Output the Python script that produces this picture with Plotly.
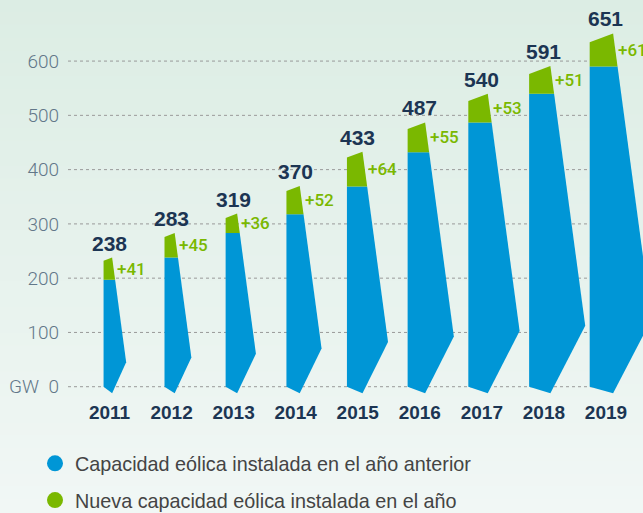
import plotly.graph_objects as go

# ---- data ----
years = ["2011", "2012", "2013", "2014", "2015", "2016", "2017", "2018", "2019"]
total_gw = [238, 283, 319, 370, 433, 487, 540, 591, 651]
new_gw = [41, 45, 36, 52, 64, 55, 53, 51, 61]
prev_gw = [t - n for t, n in zip(total_gw, new_gw)]
y_ticks = [0, 100, 200, 300, 400, 500, 600]
series_names = ["Capacidad eólica instalada en el año anterior",
                "Nueva capacidad eólica instalada en el año"]

# ---- style ----
BLUE = "#0096d6"
GREEN = "#7ab800"
NAVY = "#1c3553"
TICK_GRAY = "#627789"
W, H = 643, 513
M_L, M_R, M_T, M_B = 68, 0, 1, 115
X_RANGE = [-0.669, 8.597]
Y_RANGE = [-20.8, 710.7]

# shape of the stylised bars, proportional to the bar's value (x units per GW)
OFF_L = 0.000403
TOP_W = 0.00058
KNEE_DX = 0.00153
KNEE_FRAC = 0.19
TOP_LEFT_FRAC = 0.975
DIP = -12


def right_edge(xl, total, y):
    """x of the slanted right edge at height y"""
    x_top, y_top = xl + TOP_W * total, total
    x_knee, y_knee = xl + KNEE_DX * total, KNEE_FRAC * total
    f = (y_top - y) / (y_top - y_knee)
    return x_top + f * (x_knee - x_top)


fig = go.Figure()
annotations = []
for i, (yr, tot, new, prev) in enumerate(zip(years, total_gw, new_gw, prev_gw)):
    xl = i - OFF_L * tot
    xr_prev = right_edge(xl, tot, prev)
    x_knee = xl + KNEE_DX * tot
    # blue part (previous year capacity)
    fig.add_trace(go.Scatter(
        x=[xl, xl, xr_prev, x_knee, xl + TOP_W * tot, xl],
        y=[0, prev, prev, KNEE_FRAC * tot, DIP, 0],
        fill="toself", fillcolor=BLUE, mode="lines", line=dict(width=0, color=BLUE),
        hoverinfo="skip", showlegend=False))
    # green part (new capacity)
    fig.add_trace(go.Scatter(
        x=[xl, xl, xl + TOP_W * tot, xr_prev, xl],
        y=[prev, tot * TOP_LEFT_FRAC, tot, prev, prev],
        fill="toself", fillcolor=GREEN, mode="lines", line=dict(width=0, color=GREEN),
        hoverinfo="skip", showlegend=False))
    annotations.append(dict(x=i, y=tot, xref="x", yref="y", text=f"<b>{tot}</b>",
                            showarrow=False, yanchor="bottom", yshift=1,
                            font=dict(family="Liberation Sans, Arial", size=21, color=NAVY)))
    ymid = tot - new / 2
    annotations.append(dict(x=right_edge(xl, tot, ymid), y=ymid, xref="x", yref="y",
                            text=f"+{new}", showarrow=False, xanchor="left", xshift=1,
                            yanchor="middle",
                            font=dict(family="Roboto", size=17, color=GREEN, weight=500)))

# legend entries
for name, col in zip(series_names, [BLUE, GREEN]):
    fig.add_trace(go.Scatter(x=[None], y=[None], mode="markers", name=name,
                             legendgroup=name,
                             marker=dict(symbol="circle", size=16, color=col)))

plot_w = W - M_L - M_R
annotations.append(dict(x=(7 - M_L) / plot_w, y=0, xref="paper", yref="y", text="GW",
                        showarrow=False, xanchor="left", yanchor="middle",
                        font=dict(family="Roboto", size=19, color=TICK_GRAY, weight=300)))

# background gradient (top -> bottom)
shapes = []
top_rgb = (0xdc, 0xed, 0xe4)
bot_rgb = (0xf1, 0xf7, 0xf5)
n_band = 40
plot_h = H - M_T - M_B
py_top = (H - M_B - 0) / plot_h
py_bot = (H - M_B - H) / plot_h
for k in range(n_band):
    f = k / (n_band - 1)
    c = tuple(round(a + (b - a) * f) for a, b in zip(top_rgb, bot_rgb))
    y0 = py_top + (py_bot - py_top) * k / n_band
    y1 = py_top + (py_bot - py_top) * (k + 1) / n_band
    if k == 0:
        y0 += 0.1
    if k == n_band - 1:
        y1 -= 0.1
    shapes.append(dict(type="rect", xref="paper", yref="paper", x0=-0.2, x1=1.1,
                       y0=y1 - 0.002, y1=y0 + 0.002, fillcolor="rgb(%d,%d,%d)" % c,
                       line=dict(width=0), layer="below"))
# dotted grid lines
grid_end = (593 - M_L) / plot_w
for v in y_ticks:
    shapes.append(dict(type="line", xref="paper", yref="y", x0=0, x1=grid_end, y0=v, y1=v,
                       line=dict(color="#9a9a9a", width=1, dash="dot"), layer="below"))

fig.update_layout(
    width=W, height=H,
    margin=dict(l=M_L, r=M_R, t=M_T, b=M_B, autoexpand=False),
    paper_bgcolor="#eef5f2", plot_bgcolor="rgba(0,0,0,0)",
    shapes=shapes, annotations=annotations,
    showlegend=True,
    legend=dict(xref="container", yref="container", x=35 / W, xanchor="left",
                y=1 - 444 / H, yanchor="top",
                bgcolor="rgba(0,0,0,0)", tracegroupgap=8, traceorder="grouped",
                font=dict(family="Liberation Sans, Arial", size=19.8, color="#444444")),
    xaxis=dict(range=X_RANGE, tickmode="array", tickvals=list(range(len(years))),
               ticktext=[f"<b>{y}</b>" for y in years], showgrid=False, zeroline=False,
               showline=False, ticks="", ticklabelstandoff=1,
               tickfont=dict(family="Liberation Sans, Arial", size=19, color=NAVY)),
    yaxis=dict(range=Y_RANGE, tickmode="array", tickvals=y_ticks, showgrid=False,
               zeroline=False, showline=False, ticks="", ticklabelstandoff=8,
               tickfont=dict(family="Roboto", size=19, color=TICK_GRAY, weight=300)),
)

fig.write_html("out.html", config={"displayModeBar": False},
               post_script="document.body.style.margin='0';document.body.style.padding='0';"
                           "document.body.style.overflow='hidden';")
